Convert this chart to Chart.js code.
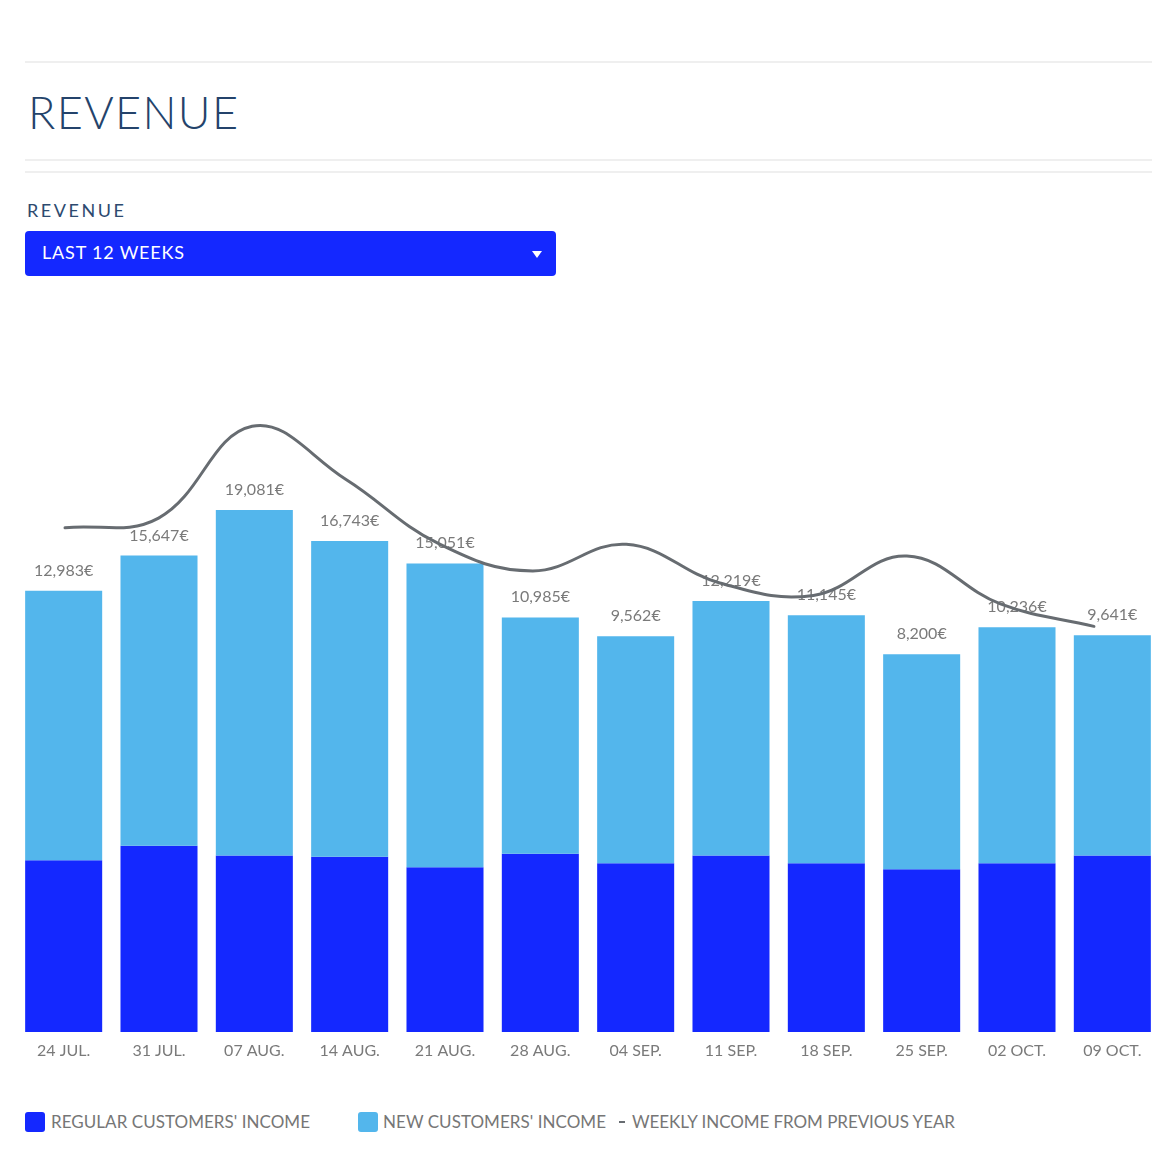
<!DOCTYPE html>
<html><head><meta charset="utf-8">
<script src="https://cdn.jsdelivr.net/npm/chart.js@4.4.1/dist/chart.umd.min.js"></script>
<style>
html,body{margin:0;padding:0;background:#fff;}
body{width:1176px;height:1176px;position:relative;overflow:hidden;font-family:Lato,"Open Sans",sans-serif;}
.rule{position:absolute;left:25px;width:1127px;height:2px;background:#efefef;}
.fit{position:absolute;white-space:nowrap;line-height:1.2;margin:0;font-weight:400;}
#title{left:28px;top:85px;font-size:45px;color:#24436b;font-weight:300;}
#sub{left:27px;top:200px;font-size:18px;color:#2d4a6f;}
#dd{position:absolute;left:25px;top:231px;width:531px;height:45px;background:#1428ff;border-radius:4px;}
#ddtext{left:42px;top:242px;font-size:18px;color:#fff;}
#ddarrow{position:absolute;left:532px;top:251px;width:0;height:0;border-left:5px solid transparent;border-right:5px solid transparent;border-top:7px solid #fff;}
#wrap{position:absolute;left:0;top:300px;width:1176px;height:770px;}
.lg-box{position:absolute;top:1112px;width:20px;height:20px;border-radius:3px;}
.lg-dash{position:absolute;top:1121px;width:6px;height:2px;}
.lg-text{top:1112px;font-size:17px;color:#767676;}
</style>
</head>
<body>
<div class="rule" style="top:61px"></div>
<div id="title" class="fit" data-w="210">REVENUE</div>
<div class="rule" style="top:159px"></div>
<div class="rule" style="top:171px"></div>
<div id="sub" class="fit" data-w="97">REVENUE</div>
<div id="dd"></div>
<div id="ddtext" class="fit" data-w="142">LAST 12 WEEKS</div>
<div id="ddarrow"></div>
<div id="wrap"><canvas id="c" width="1176" height="770"></canvas></div>
<div id="legend"></div>
<script>
// ---- data ----
const weeks = ['24 JUL.','31 JUL.','07 AUG.','14 AUG.','21 AUG.','28 AUG.','04 SEP.','11 SEP.','18 SEP.','25 SEP.','02 OCT.','09 OCT.'];
const totals = [12983, 15647, 19081, 16743, 15051, 10985, 9562, 12219, 11145, 8200, 10236, 9641];
const regular = [12940, 14040, 13310, 13210, 12410, 13440, 12710, 13310, 12710, 12260, 12710, 13310];
const prevYear = [17740, 18470, 25390, 21400, 16520, 14490, 16490, 13580, 12640, 15610, 12000, 10310];
const seriesLabels = ["REGULAR CUSTOMERS' INCOME", "NEW CUSTOMERS' INCOME", "WEEKLY INCOME FROM PREVIOUS YEAR"];

// ---- scale config ----
const AXIS_MIN = -20260, AXIS_MAX = 34790;
const XL_MIN = -0.524, XL_MAX = 11.706;

const regularBars = regular.map(r => [AXIS_MIN, AXIS_MIN + r]);
const newBars = totals.map((t, i) => [AXIS_MIN + regular[i], t]);
const linePts = prevYear.map((v, i) => ({x: i, y: v}));

const labelPlugin = {
  id: 'totals',
  afterDatasetDraw(chart, args) {
    if (args.index !== 1) return;
    const c = chart.ctx;
    c.save();
    c.font = '16px Lato';
    c.fillStyle = '#7a7a7a';
    c.textAlign = 'center';
    c.textBaseline = 'alphabetic';
    args.meta.data.forEach((bar, i) => {
      c.fillText(totals[i].toLocaleString('en-US') + '€', bar.x, bar.y - 15);
    });
    c.restore();
  }
};

const chart = new Chart(document.getElementById('c'), {
  type: 'bar',
  data: {
    labels: weeks,
    datasets: [
      {label: seriesLabels[0], data: regularBars, backgroundColor: '#1428ff', order: 2, xAxisID: 'x', grouped: false, barPercentage: 0.808, categoryPercentage: 1},
      {label: seriesLabels[1], data: newBars, backgroundColor: '#53b6ec', order: 1, xAxisID: 'x', grouped: false, barPercentage: 0.808, categoryPercentage: 1},
      {type: 'line', label: seriesLabels[2], data: linePts, xAxisID: 'xl', borderColor: '#676c71', borderWidth: 3, tension: 0.4, pointRadius: 0, fill: false, order: 0, borderCapStyle: 'round'}
    ]
  },
  options: {
    responsive: false, animation: false, devicePixelRatio: 1,
    layout: {padding: {left: 16, right: 16, top: 0, bottom: 0}},
    plugins: {legend: {display: false}, tooltip: {enabled: false}},
    scales: {
      x: {type: 'category', offset: true, grid: {display: false, drawTicks: false}, border: {display: false},
          ticks: {color: '#7a7a7a', font: {family: 'Lato', size: 16}, padding: 9, maxRotation: 0, autoSkip: false},
          afterFit: s => { s.height = 38; }},
      xl: {type: 'linear', display: false, offset: false, grid: {offset: false}, min: XL_MIN, max: XL_MAX},
      y: {display: false, min: AXIS_MIN, max: AXIS_MAX}
    }
  },
  plugins: [labelPlugin]
});

// ---- HTML legend built from chart datasets ----
const legendPos = [{box: 25, text: 51, w: 259}, {box: 358, text: 383, w: 223}, {box: 619, text: 632, w: 323}];
const lg = document.getElementById('legend');
chart.data.datasets.forEach((ds, i) => {
  const p = legendPos[i];
  const mark = document.createElement('div');
  if (ds.type === 'line') { mark.className = 'lg-dash'; mark.style.background = ds.borderColor; }
  else { mark.className = 'lg-box'; mark.style.background = ds.backgroundColor; }
  mark.style.left = p.box + 'px';
  lg.appendChild(mark);
  const t = document.createElement('div');
  t.className = 'fit lg-text';
  t.style.left = p.text + 'px';
  t.dataset.w = p.w;
  t.textContent = ds.label;
  lg.appendChild(t);
});

function fitAll() {
  document.querySelectorAll('.fit[data-w]').forEach(el => {
    el.style.letterSpacing = '0px';
    const w = el.getBoundingClientRect().width;
    const n = el.textContent.length;
    el.style.letterSpacing = ((+el.dataset.w - w) / Math.max(1, n - 1)) + 'px';
  });
}
fitAll();
if (document.fonts && document.fonts.ready) document.fonts.ready.then(() => { fitAll(); chart.update('none'); });
</script>
</body></html>
